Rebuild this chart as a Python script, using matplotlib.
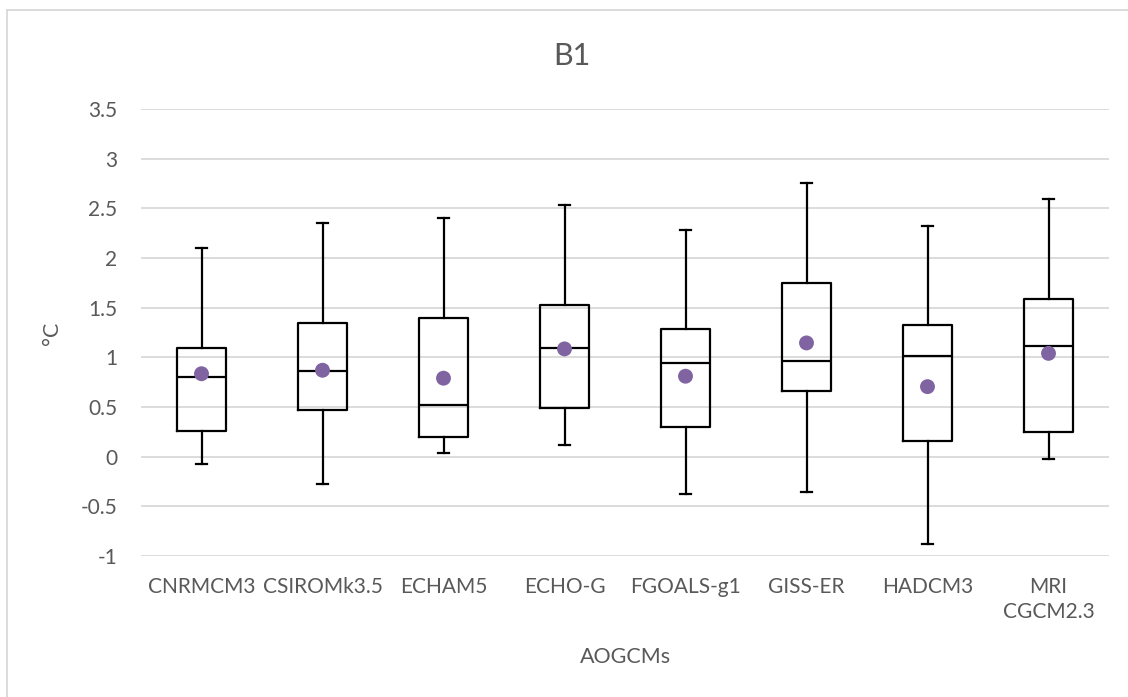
import matplotlib
matplotlib.use("Agg")
import matplotlib.pyplot as plt
from matplotlib.lines import Line2D

plt.rcParams['font.family'] = ['Lato', 'DejaVu Sans']

#### DATA ####
models = ["CNRMCM3", "CSIROMk3.5", "ECHAM5", "ECHO-G", "FGOALS-g1", "GISS-ER", "HADCM3", "MRI\nCGCM2.3"]
whisker_low = [-0.07, -0.28, 0.04, 0.12, -0.38, -0.36, -0.88, -0.02]
q1 = [0.26, 0.465, 0.20, 0.49, 0.30, 0.665, 0.16, 0.25]
medians = [0.80, 0.86, 0.52, 1.09, 0.94, 0.96, 1.01, 1.11]
q3 = [1.095, 1.35, 1.40, 1.525, 1.285, 1.75, 1.325, 1.585]
whisker_high = [2.10, 2.35, 2.40, 2.53, 2.285, 2.755, 2.325, 2.59]
means = [0.835, 0.87, 0.79, 1.085, 0.81, 1.145, 0.705, 1.04]

textColor = '#595959'
gridColor = '#D9D9D9'

fig = plt.figure(figsize=(11.28, 6.97), dpi=100)
ax = fig.add_axes([141/1128, 1 - 556/697, 968/1128, 447/697])

# build box stats from the arrays above
stats = []
for i in range(len(models)):
    stats.append({"whislo": whisker_low[i], "q1": q1[i], "med": medians[i],
                  "q3": q3[i], "whishi": whisker_high[i], "fliers": []})

positions = list(range(1, len(models) + 1))
lineStyle = dict(color='black', linewidth=1.6)
ax.bxp(stats, positions=positions, widths=0.4, capwidths=0.09, showfliers=False,
       boxprops=lineStyle, whiskerprops=lineStyle, capprops=lineStyle,
       medianprops=lineStyle, patch_artist=False, zorder=3)

ax.scatter(positions, means, s=115, color='#8064A2', zorder=4, edgecolors='none')

ax.set_xlim(0.5, len(models) + 0.5)
ax.set_ylim(-1, 3.5)
ax.set_yticks([-1, -0.5, 0, 0.5, 1, 1.5, 2, 2.5, 3, 3.5])
ax.set_yticklabels(["-1", "-0.5", "0", "0.5", "1", "1.5", "2", "2.5", "3", "3.5"])
ax.set_xticks(positions)
ax.set_xticklabels(models, linespacing=1.3)
ax.yaxis.grid(True, color=gridColor, linewidth=1.3, zorder=0)
ax.set_axisbelow(True)
for spine in ax.spines.values():
    spine.set_visible(False)
ax.tick_params(axis='both', length=0, labelsize=15, colors=textColor)
ax.tick_params(axis='x', pad=15)
ax.tick_params(axis='y', pad=17)

fig.text(572/1128, 1 - 56/697, "B1", fontsize=22, color=textColor, ha='center', va='center')
fig.text(625/1128, 1 - 657/697, "AOGCMs", fontsize=15.5, color=textColor, ha='center', va='center')
fig.text(52/1128, 1 - 333/697, "°C", fontsize=15.5, color=textColor, ha='center', va='center', rotation=90)

# chart frame (left and top edges visible)
fig.add_artist(Line2D([6.5/1128, 6.5/1128], [0, 1 - 10/697], transform=fig.transFigure, color=gridColor, linewidth=1.3))
fig.add_artist(Line2D([6.5/1128, 1], [1 - 10/697, 1 - 10/697], transform=fig.transFigure, color=gridColor, linewidth=1.3))

fig.savefig('out.png', dpi=100)
